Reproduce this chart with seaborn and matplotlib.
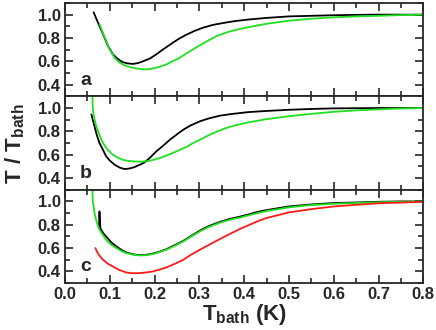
import numpy as np
import pandas as pd
import matplotlib
matplotlib.use("Agg")
import matplotlib.pyplot as plt
from matplotlib.ticker import MultipleLocator
import seaborn as sns

# ---- data ----
a_black_x = [0.064, 0.075, 0.085, 0.095, 0.107, 0.118, 0.129, 0.140, 0.152, 0.163, 0.174, 0.19, 0.204, 0.22, 0.241,
             0.255, 0.271, 0.29, 0.308, 0.33, 0.36, 0.38, 0.409, 0.45, 0.5, 0.55, 0.6, 0.65, 0.7, 0.75, 0.8]
a_black_y = [1.02, 0.92, 0.833, 0.74, 0.66, 0.62, 0.593, 0.582, 0.578, 0.585, 0.60, 0.625, 0.66, 0.705, 0.76,
             0.795, 0.828, 0.862, 0.888, 0.912, 0.933, 0.945, 0.958, 0.972, 0.985, 0.99, 0.995, 0.998, 1.0, 1.0, 1.0]
a_green_x = [0.077, 0.085, 0.092, 0.100, 0.111, 0.12, 0.129, 0.14, 0.152, 0.163, 0.174, 0.185, 0.196, 0.21, 0.226,
             0.24, 0.256, 0.27, 0.286, 0.3, 0.323, 0.34, 0.36, 0.38, 0.409, 0.45, 0.5, 0.55, 0.6, 0.65, 0.7, 0.75, 0.8]
a_green_y = [0.92, 0.84, 0.775, 0.70, 0.63, 0.595, 0.573, 0.556, 0.544, 0.537, 0.532, 0.532, 0.538, 0.552, 0.573,
             0.60, 0.63, 0.665, 0.703, 0.735, 0.785, 0.818, 0.847, 0.868, 0.892, 0.922, 0.948, 0.965, 0.977, 0.985, 0.99, 0.996, 1.0]

b_black_x = [0.059, 0.062, 0.066, 0.071, 0.077, 0.085, 0.092, 0.10, 0.111, 0.122, 0.133, 0.144, 0.155, 0.166, 0.178,
             0.19, 0.204, 0.22, 0.234, 0.25, 0.264, 0.28, 0.301, 0.32, 0.345, 0.37, 0.409, 0.45, 0.5, 0.55, 0.6, 0.7, 0.8]
b_black_y = [0.945, 0.90, 0.843, 0.77, 0.70, 0.64, 0.586, 0.55, 0.514, 0.49, 0.477, 0.482, 0.494, 0.512, 0.535,
             0.575, 0.629, 0.68, 0.728, 0.775, 0.814, 0.85, 0.886, 0.91, 0.934, 0.948, 0.965, 0.975, 0.985, 0.992, 0.997, 1.0, 1.0]
b_green_x = [0.061, 0.062, 0.064, 0.066, 0.07, 0.077, 0.085, 0.095, 0.107, 0.118, 0.129, 0.14, 0.152, 0.165, 0.182,
             0.195, 0.211, 0.23, 0.249, 0.27, 0.286, 0.305, 0.323, 0.34, 0.36, 0.38, 0.409, 0.45, 0.5, 0.55, 0.6,
             0.65, 0.7, 0.75, 0.8]
b_green_y = [1.15, 1.0, 0.943, 0.90, 0.843, 0.77, 0.70, 0.645, 0.60, 0.575, 0.557, 0.548, 0.543, 0.541, 0.543,
             0.554, 0.571, 0.598, 0.629, 0.665, 0.70, 0.735, 0.771, 0.80, 0.829, 0.852, 0.877, 0.905, 0.93, 0.95, 0.968,
             0.98, 0.989, 0.996, 1.0]

c_black_x = [0.076, 0.077, 0.079, 0.085, 0.092, 0.103, 0.115, 0.126, 0.137, 0.152, 0.167, 0.18, 0.196, 0.21, 0.226,
             0.245, 0.264, 0.28, 0.301, 0.32, 0.346, 0.37, 0.391, 0.409, 0.43, 0.45, 0.5, 0.55, 0.6, 0.65, 0.7, 0.75, 0.8]
c_black_y = [0.78, 0.914, 0.77, 0.73, 0.70, 0.65, 0.614, 0.585, 0.563, 0.547, 0.54, 0.542, 0.553, 0.568, 0.59,
             0.625, 0.662, 0.70, 0.75, 0.787, 0.825, 0.852, 0.87, 0.888, 0.91, 0.926, 0.957, 0.974, 0.986, 0.991, 0.997, 1.0, 1.0]
c_green_x = [0.061, 0.062, 0.064, 0.066, 0.071, 0.077, 0.085, 0.092, 0.103, 0.115, 0.126, 0.137, 0.152, 0.167, 0.18,
             0.196, 0.21, 0.226, 0.245, 0.264, 0.28, 0.301, 0.32, 0.346, 0.37, 0.391, 0.409, 0.43, 0.45, 0.5, 0.55, 0.6,
             0.65, 0.7, 0.75, 0.8]
c_green_y = [1.15, 1.0, 0.957, 0.90, 0.82, 0.757, 0.71, 0.671, 0.63, 0.60, 0.575, 0.557, 0.544, 0.537, 0.539,
             0.549, 0.565, 0.586, 0.62, 0.657, 0.695, 0.743, 0.78, 0.818, 0.845, 0.862, 0.88, 0.90, 0.918, 0.949, 0.969, 0.98,
             0.987, 0.993, 0.997, 1.0]
c_red_x = [0.068, 0.072, 0.077, 0.085, 0.095, 0.107, 0.12, 0.137, 0.152, 0.167, 0.18, 0.196, 0.21, 0.226, 0.245,
           0.264, 0.28, 0.301, 0.32, 0.346, 0.37, 0.391, 0.409, 0.43, 0.45, 0.5, 0.55, 0.6, 0.65, 0.7, 0.75, 0.8]
c_red_y = [0.60, 0.565, 0.535, 0.50, 0.468, 0.443, 0.415, 0.391, 0.385, 0.386, 0.391, 0.40, 0.415, 0.434, 0.465,
           0.50, 0.54, 0.586, 0.625, 0.678, 0.725, 0.765, 0.795, 0.83, 0.858, 0.906, 0.934, 0.957, 0.971, 0.984, 0.99, 0.997]

panel_labels = ["a", "b", "c"]
x_ticks = [0.0, 0.1, 0.2, 0.3, 0.4, 0.5, 0.6, 0.7, 0.8]
y_ticks = [0.4, 0.6, 0.8, 1.0]

BLACK = "#000000"
GREEN = "#1fe01f"
RED = "#ff1a1a"

panels = [
    [(a_black_x, a_black_y, BLACK), (a_green_x, a_green_y, GREEN)],
    [(b_black_x, b_black_y, BLACK), (b_green_x, b_green_y, GREEN)],
    [(c_black_x, c_black_y, BLACK), (c_green_x, c_green_y, GREEN), (c_red_x, c_red_y, RED)],
]

sns.set_style("ticks")
plt.rcParams["font.family"] = ["Liberation Sans", "DejaVu Sans"]
plt.rcParams["font.weight"] = "bold"
plt.rcParams["mathtext.fontset"] = "custom"
plt.rcParams["mathtext.rm"] = "Liberation Sans:bold"
plt.rcParams["mathtext.bf"] = "Liberation Sans:bold"
plt.rcParams["mathtext.it"] = "Liberation Sans:bold"

fig, axes = plt.subplots(3, 1, sharex=True, figsize=(4.36, 3.30), dpi=100)
fig.subplots_adjust(left=0.149, right=0.971, top=0.991, bottom=0.142, hspace=0)

for ax, series, lab in zip(axes, panels, panel_labels):
    for xs, ys, col in series:
        df = pd.DataFrame({"x": xs, "y": ys})
        sns.lineplot(data=df, x="x", y="y", ax=ax, color=col, linewidth=1.3,
                     estimator=None, sort=False)
    ax.set_xlim(0.0, 0.8)
    ax.set_ylim(0.3, 1.1)
    ax.set_yticks(y_ticks)
    ax.yaxis.set_minor_locator(MultipleLocator(0.1))
    ax.set_xticks(x_ticks)
    ax.xaxis.set_minor_locator(MultipleLocator(0.05))
    ax.tick_params(which="both", direction="in", top=True, right=True, bottom=True, left=True,
                   width=1.2, labelsize=12, pad=3)
    ax.tick_params(which="major", length=6)
    ax.tick_params(which="minor", length=3.5)
    for sp in ax.spines.values():
        sp.set_linewidth(1.3)
        sp.set_visible(True)
    ax.set_xlabel("")
    ax.set_ylabel("")
    ax.text(0.047, 0.44, lab, fontsize=14, fontweight="bold", ha="center", va="center")
    for t in ax.get_yticklabels():
        t.set_fontweight("bold")

axes[2].set_xticklabels([f"{v:.1f}" for v in x_ticks], fontweight="bold")
axes[2].set_xlabel(r"$\mathregular{T_{bath}}$ (K)", fontsize=16, fontweight="bold", labelpad=0)
fig.text(0.035, 0.565, r"$\mathregular{T\ /\ T_{bath}}$", rotation=90, fontsize=16,
         fontweight="bold", ha="center", va="center")

fig.savefig("out.png", dpi=100)
